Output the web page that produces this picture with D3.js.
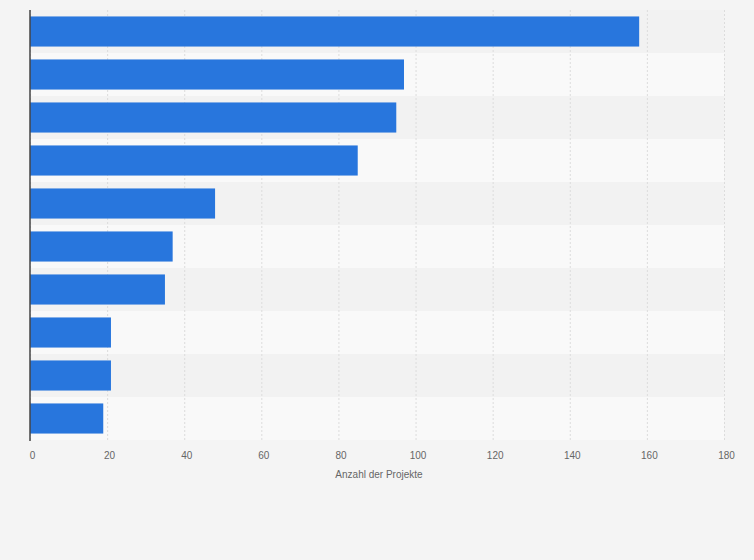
<!DOCTYPE html>
<html lang="de">
<head>
  <meta charset="UTF-8">
  <script src="https://d3js.org/d3.v7.min.js"></script>
  <style>
    body { margin: 0; background: #f4f4f4; }
  </style>
</head>
<body>
  <div id="root"></div>
  <script>
    // Daten (keine Kategoriebeschriftungen sichtbar)
    const categories = ['K1', 'K2', 'K3', 'K4', 'K5', 'K6', 'K7', 'K8', 'K9', 'K10']
    const values = [158, 97, 95, 85, 48, 37, 35, 21, 21, 19]
    const tickValues = [0, 20, 40, 60, 80, 100, 120, 140, 160, 180]

    const width = 754, height = 560
    const margin = {top: 10, left: 30, right: 30}
    const innerWidth = 694, innerHeight = 430

    const svg = d3.select('#root').append('svg')
      .attr('width', width).attr('height', height)
      .style('display', 'block')
      .style('background', '#f4f4f4')
      .style('font-family', '"Liberation Sans", Arial, sans-serif')

    const g = svg.append('g').attr('transform', `translate(${margin.left},${margin.top})`)

    const x = d3.scaleLinear().domain([0, 180]).range([0, innerWidth])
    const y = d3.scaleBand().domain(categories).range([0, innerHeight]).paddingInner(0.3).paddingOuter(0.15)
    const rows = d3.scaleBand().domain(categories).range([0, innerHeight])

    // Zeilenstreifen
    g.selectAll('rect.row').data(categories).enter().append('rect')
      .attr('class', 'row')
      .attr('x', 0).attr('width', innerWidth)
      .attr('y', d => rows(d)).attr('height', rows.bandwidth())
      .attr('fill', (d, i) => i % 2 ? '#f9f9f9' : '#f2f2f2')

    // Gitterlinien + Achse
    const xAxis = d3.axisBottom(x).tickValues(tickValues).tickSize(-innerHeight).tickPadding(12)
    const axG = g.append('g').attr('transform', `translate(0,${innerHeight})`).call(xAxis)
    axG.select('.domain').remove()
    axG.selectAll('.tick line').attr('stroke', '#dcdcdc').attr('stroke-dasharray', '2,2')
    axG.selectAll('.tick text').attr('fill', '#666').attr('font-size', 10)
      .attr('font-family', '"Liberation Sans", Arial, sans-serif').attr('dx', 2)

    // Balken
    g.selectAll('rect.bar').data(values).enter().append('rect')
      .attr('class', 'bar')
      .attr('x', 0)
      .attr('y', (d, i) => y(categories[i]))
      .attr('width', d => x(d))
      .attr('height', y.bandwidth())
      .attr('fill', '#2876dd')

    // y-Achsenlinie
    g.append('line').attr('x1', 0).attr('x2', 0).attr('y1', 0).attr('y2', innerHeight + 1)
      .attr('stroke', '#444').attr('stroke-width', 1.5)

    svg.append('text').text('Anzahl der Projekte')
      .attr('x', margin.left + innerWidth / 2 + 2).attr('y', 478)
      .attr('text-anchor', 'middle').attr('font-size', 10).attr('fill', '#666')
  </script>
</body>
</html>
